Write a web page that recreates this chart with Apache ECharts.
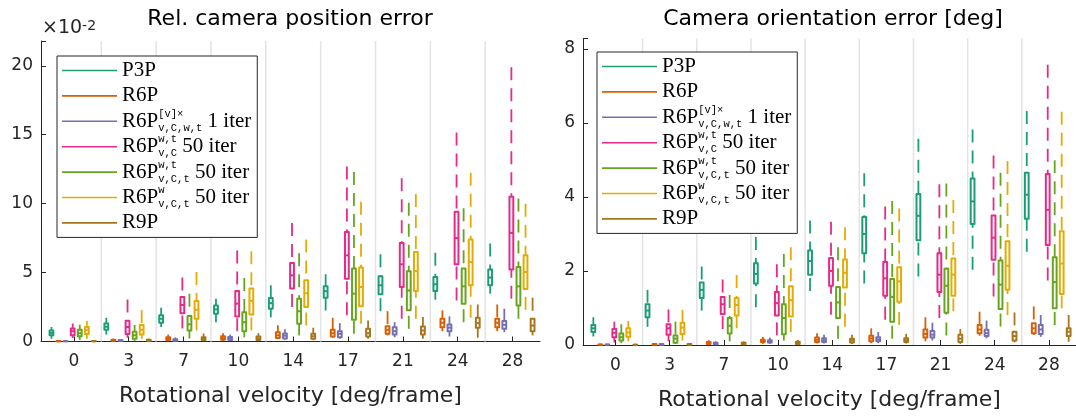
<!DOCTYPE html>
<html><head><meta charset="utf-8">
<script src="https://cdn.jsdelivr.net/npm/echarts@6/dist/echarts.min.js"></script>
<style>html,body{margin:0;padding:0;background:#fff}#c{width:1076px;height:416px}</style>
</head><body><div id="c"></div>
<script>
// ---------- data ----------
const categories = ['0','3','7','10','14','17','21','24','28'];
const methodNames = ['P3P','R6P','R6P_vx_1','R6P_wt_vC_50','R6P_wt_vCt_50','R6P_w_vCt_50','R9P'];
const legendLabels = [
  '{m|P3P}',
  '{m|R6P}',
  '{m|R6P}{sup|[v]×}{sub|v,C,w,t}{m| 1 iter}',
  '{m|R6P}{sup|w,t}{sub|v,C}{m| 50 iter}',
  '{m|R6P}{sup|w,t}{sub|v,C,t}{m| 50 iter}',
  '{m|R6P}{sup|w}{sub|v,C,t}{m| 50 iter}',
  '{m|R9P}'
];
const colors = ['#1b9e77','#d95f02','#7570b3','#e7298a','#66a61e','#e6ab02','#a6761d'];
const leftTicks = [0,5,10,15,20];
const rightTicks = [0,2,4,6,8];

// Left panel: relative camera position error (x 1e-2), each [min, q1, median, q3, max]
const posP3P = [[0.2,0.45,0.62,0.8,1.05],[0.5,0.85,1.07,1.3,1.72],[1.05,1.36,1.65,1.9,2.45],[1.4,2.02,2.33,2.62,3.1],[1.75,2.38,2.78,3.15,4.08],[2.25,3.18,3.65,4.0,4.88],[2.2,3.42,4.08,4.73,6.33],[3.03,3.66,4.15,4.68,6.43],[3.47,4.08,4.64,5.22,7.11]];
const posR6P = [[0,0.01,0.02,0.04,0.08],[0.02,0.05,0.08,0.12,0.2],[0.02,0.1,0.18,0.3,0.5],[0.05,0.12,0.25,0.38,0.6],[0.17,0.26,0.45,0.68,1.18],[0.27,0.36,0.6,0.85,1.72],[0.44,0.56,0.85,1.11,2.2],[0.75,1.04,1.36,1.65,2.26],[0.75,1.04,1.36,1.65,2.69]];
const posR6Pv = [[0,0.01,0.02,0.03,0.06],[0.02,0.04,0.07,0.1,0.16],[0.02,0.06,0.1,0.17,0.3],[0.03,0.1,0.2,0.32,0.5],[0.13,0.22,0.42,0.58,0.88],[0.2,0.31,0.55,0.75,1.33],[0.31,0.51,0.75,1.04,1.4],[0.36,0.75,1.0,1.24,1.82],[0.68,0.92,1.21,1.48,2.38]];
const posWtVC = [[0.25,0.45,0.75,0.95,1.3],[0.27,0.55,1.05,1.5,3.05],[0.95,2.05,2.65,3.22,4.64],[0.75,1.82,2.75,3.66,6.6],[2.5,3.84,4.8,5.7,8.6],[1.9,4.56,6.25,7.95,12.7],[1.65,3.95,5.6,7.15,11.84],[2.98,5.6,7.5,9.41,15.16],[3.1,5.22,7.88,10.5,19.9]];
const posWtVCt = [[0.1,0.38,0.6,0.85,1.22],[0.05,0.2,0.45,0.7,1.2],[0.22,0.8,1.25,1.85,3.47],[0.3,0.75,1.4,2.13,4.6],[0.44,1.29,2.2,3.1,6.4],[0.56,1.58,3.47,5.29,12.3],[0.92,2.26,3.7,5.1,10.07],[1.4,2.74,4.0,5.29,9.66],[1.65,2.62,4.0,5.4,10.38]];
const posWVCt = [[0.2,0.55,0.85,1.05,1.5],[0.2,0.5,0.85,1.2,2.28],[0.8,1.65,2.3,2.93,5.04],[0.8,1.96,2.95,3.84,6.55],[1.16,2.5,3.5,4.44,7.4],[1.29,2.55,3.95,5.36,10.14],[1.65,3.66,5.1,6.5,10.7],[1.72,4.08,5.77,7.4,12.25],[2.3,3.8,5.04,6.26,10.0]];
const posR9P = [[0,0.01,0.02,0.04,0.1],[0.02,0.05,0.08,0.12,0.2],[0.02,0.1,0.2,0.3,0.58],[0.03,0.1,0.22,0.36,0.6],[0.1,0.2,0.38,0.56,1.0],[0.2,0.36,0.6,0.92,1.53],[0.2,0.51,0.8,1.09,1.77],[0.27,1.0,1.33,1.72,2.69],[0.44,0.75,1.16,1.65,3.18]];

// Right panel: camera orientation error [deg]
const rotP3P = [[0.23,0.35,0.45,0.54,0.75],[0.49,0.75,0.93,1.1,1.49],[0.93,1.27,1.49,1.69,2.12],[1.02,1.66,1.92,2.21,2.92],[1.46,1.9,2.27,2.55,3.36],[1.66,2.48,3.0,3.46,4.64],[1.85,2.83,3.49,4.08,5.57],[2.03,3.27,3.88,4.5,5.82],[2.52,3.41,4.06,4.65,6.32]];
const rotR6P = [[0,0.005,0.01,0.015,0.03],[0.005,0.01,0.02,0.03,0.05],[0.01,0.03,0.06,0.08,0.13],[0.03,0.08,0.11,0.14,0.22],[0.04,0.08,0.14,0.2,0.32],[0.05,0.1,0.18,0.25,0.45],[0.1,0.2,0.3,0.42,0.75],[0.25,0.32,0.42,0.54,0.9],[0.27,0.32,0.45,0.59,1.04]];
const rotR6Pv = [[0,0.005,0.01,0.015,0.03],[0.005,0.01,0.02,0.03,0.05],[0.01,0.02,0.04,0.06,0.1],[0.03,0.07,0.1,0.13,0.2],[0.04,0.08,0.13,0.18,0.28],[0.05,0.1,0.15,0.21,0.35],[0.12,0.2,0.28,0.38,0.6],[0.18,0.24,0.32,0.41,0.66],[0.22,0.3,0.42,0.54,0.81]];
const rotWtVC = [[0.07,0.21,0.33,0.43,0.63],[0.1,0.28,0.45,0.56,0.96],[0.43,0.84,1.1,1.3,1.77],[0.26,0.8,1.13,1.43,2.18],[0.82,1.6,2.0,2.35,3.33],[0.68,1.33,1.8,2.24,3.74],[0.73,1.43,1.9,2.48,4.34],[1.31,2.3,2.9,3.5,5.12],[1.74,2.7,3.65,4.62,7.57]];
const rotWtVCt = [[0.05,0.12,0.21,0.31,0.56],[0.03,0.06,0.17,0.26,0.63],[0.1,0.31,0.52,0.73,1.35],[0.12,0.29,0.73,1.1,2.46],[0.17,0.73,1.15,1.57,2.64],[0.17,0.63,1.3,1.78,3.89],[0.26,0.87,1.6,2.06,4.36],[0.5,0.97,1.63,2.28,4.65],[0.54,0.99,1.7,2.37,4.99]];
const rotWVCt = [[0.1,0.22,0.34,0.45,0.65],[0.12,0.3,0.47,0.6,0.95],[0.45,0.8,1.08,1.27,1.89],[0.35,0.77,1.21,1.59,2.64],[0.49,1.55,1.95,2.31,3.18],[0.54,1.17,1.72,2.1,3.69],[0.91,1.33,1.9,2.34,3.92],[0.81,1.49,2.14,2.8,4.97],[0.99,1.38,2.2,3.07,6.3]];
const rotR9P = [[0,0.003,0.006,0.01,0.02],[0.005,0.01,0.02,0.03,0.05],[0.01,0.02,0.04,0.06,0.1],[0.01,0.03,0.06,0.09,0.14],[0.03,0.07,0.12,0.17,0.28],[0.04,0.08,0.13,0.18,0.3],[0.03,0.08,0.17,0.28,0.43],[0.07,0.12,0.24,0.36,0.88],[0.09,0.24,0.36,0.45,0.81]];

const leftData = [posP3P,posR6P,posR6Pv,posWtVC,posWtVCt,posWVCt,posR9P];
const rightData = [rotP3P,rotR6P,rotR6Pv,rotWtVC,rotWtVCt,rotWVCt,rotR9P];

// ---------- drawing ----------
const chart = echarts.init(document.getElementById('c'), null, {renderer:'canvas'});
const AX = '#262626';
const SANS = 'DejaVu Sans';
const nGroups = categories.length;
const groupCenters = categories.map((c,i)=>i+1);
const BOX_STEP = 0.129, BOX_SHIFT = -0.022;

function renderBox(params, api){
  const x = api.value(0);
  const c = v => api.coord([x, v]);
  const xc = c(api.value(3))[0];
  const yMin = c(api.value(1))[1], yQ1 = c(api.value(2))[1], yMed = c(api.value(3))[1];
  const yQ3 = c(api.value(4))[1], yMax = c(api.value(5))[1];
  const color = api.visual('color');
  const hw = 1.9;
  const wStyle = {stroke: color, lineWidth: 1.8, lineDash: [13, 8], fill: null};
  return {type:'group', children:[
    {type:'line', shape:{x1:xc,y1:yMax,x2:xc,y2:yQ3}, style: wStyle},
    {type:'line', shape:{x1:xc,y1:yMin,x2:xc,y2:yQ1}, style: wStyle},
    {type:'rect', shape:{x:xc-hw, y:yQ3, width:2*hw, height:Math.max(yQ1-yQ3,0.01)}, style:{fill:'#fff', stroke:color, lineWidth:2, lineJoin:'round'}},
    {type:'line', shape:{x1:xc-hw,y1:yMed,x2:xc+hw,y2:yMed}, style:{stroke:color, lineWidth:2}}
  ]};
}
function renderSep(params, api){
  const cs = params.coordSys;
  const x = api.coord([api.value(0), 0])[0];
  return {type:'line', shape:{x1:x, y1:cs.y, x2:x, y2:cs.y+cs.height}, style:{stroke:'#e3e3e3', lineWidth:1.5}};
}

const series = [];
[leftData, rightData].forEach((panel, p) => {
  series.push({type:'custom', name:'sep'+p, xAxisIndex:p, yAxisIndex:p, z:1, silent:true,
    renderItem: renderSep,
    data: groupCenters.slice(0, nGroups-1).map(g => [g+0.5])});
  panel.forEach((stats, j) => {
    series.push({
      type:'custom', name: methodNames[j], xAxisIndex:p, yAxisIndex:p, z:5,
      itemStyle:{color: colors[j]},
      renderItem: renderBox,
      encode:{x:0, y:[1,2,3,4,5]},
      data: stats.map((s, g) => [groupCenters[g] + (j-3)*BOX_STEP + BOX_SHIFT].concat(s))
    });
  });
});

function xAxisCfg(gi){
  return {type:'value', gridIndex:gi, min:0.4, max:9.5,
    axisLine:{show:true, lineStyle:{color:AX, width:1}},
    axisTick:{show:true, inside:true, length:5, customValues: groupCenters, lineStyle:{color:AX}},
    axisLabel:{customValues: groupCenters, formatter: v => categories[Math.round(v)-1] ?? '', color:AX, fontFamily:SANS, fontSize:17, margin:12},
    splitLine:{show:false},
    name:'Rotational velocity [deg/frame]', nameLocation:'middle', nameGap:44,
    nameTextStyle:{fontFamily:SANS, fontSize:22, color:AX}
  };
}
function yAxisCfg(gi, max, interval){
  return {type:'value', gridIndex:gi, min:0, max:max, interval:interval,
    axisLine:{show:true, lineStyle:{color:AX, width:1}},
    axisTick:{show:true, inside:true, length:5, lineStyle:{color:AX}},
    axisLabel:{color:AX, fontFamily:SANS, fontSize:17, margin:8,
      formatter: v => (gi===0 ? leftTicks : rightTicks).includes(v) ? String(v) : ''},
    splitLine:{show:false}
  };
}
const legendRich = {
  m:{fontFamily:'Liberation Serif', fontSize:21, lineHeight:25, height:25, color:'#000'},
  sup:{fontFamily:'Liberation Mono', fontSize:10.5, lineHeight:12, verticalAlign:'top', width:0, color:'#000'},
  sub:{fontFamily:'Liberation Mono', fontSize:10.5, lineHeight:13, verticalAlign:'bottom', color:'#000'}
};
function legendCfg(left, top){
  return {orient:'vertical', left:left, top:top, padding:[2,6,2,5], itemGap:0.4,
    itemWidth:55, itemHeight:1.6, icon:'rect', selectedMode:false,
    borderColor:AX, borderWidth:1, backgroundColor:'#fff', borderRadius:0,
    data: methodNames.map(n => ({name:n, icon:'rect'})),
    formatter: name => legendLabels[methodNames.indexOf(name)],
    textStyle:{rich: legendRich, fontFamily:'Liberation Serif', fontSize:21, lineHeight:25}
  };
}

chart.setOption({
  animation:false,
  backgroundColor:'#fff',
  grid:[
    {left:41, top:41, width:499, height:300.5},
    {left:583, top:38.5, width:500.5, height:306.5}
  ],
  xAxis:[xAxisCfg(0), xAxisCfg(1)],
  yAxis:[yAxisCfg(0, 21.8, 5), yAxisCfg(1, 8.28, 2)],
  legend:[legendCfg(57, 56), legendCfg(597, 52)],
  graphic:[
    {type:'text', x:290, y:19, style:{text:'Rel. camera position error', align:'center', verticalAlign:'middle', fontFamily:SANS, fontSize:22, fill:'#000'}},
    {type:'text', x:833, y:19, style:{text:'Camera orientation error [deg]', align:'center', verticalAlign:'middle', fontFamily:SANS, fontSize:22, fill:'#000'}},
    {type:'text', x:42, y:38, style:{text:'×10{s|-2}', align:'left', verticalAlign:'bottom', fontFamily:SANS, fontSize:19, fill:AX,
      rich:{s:{fontFamily:SANS, fontSize:14, verticalAlign:'top', lineHeight:15, fill:AX}}}}
  ],
  series: series
});
</script></body></html>
